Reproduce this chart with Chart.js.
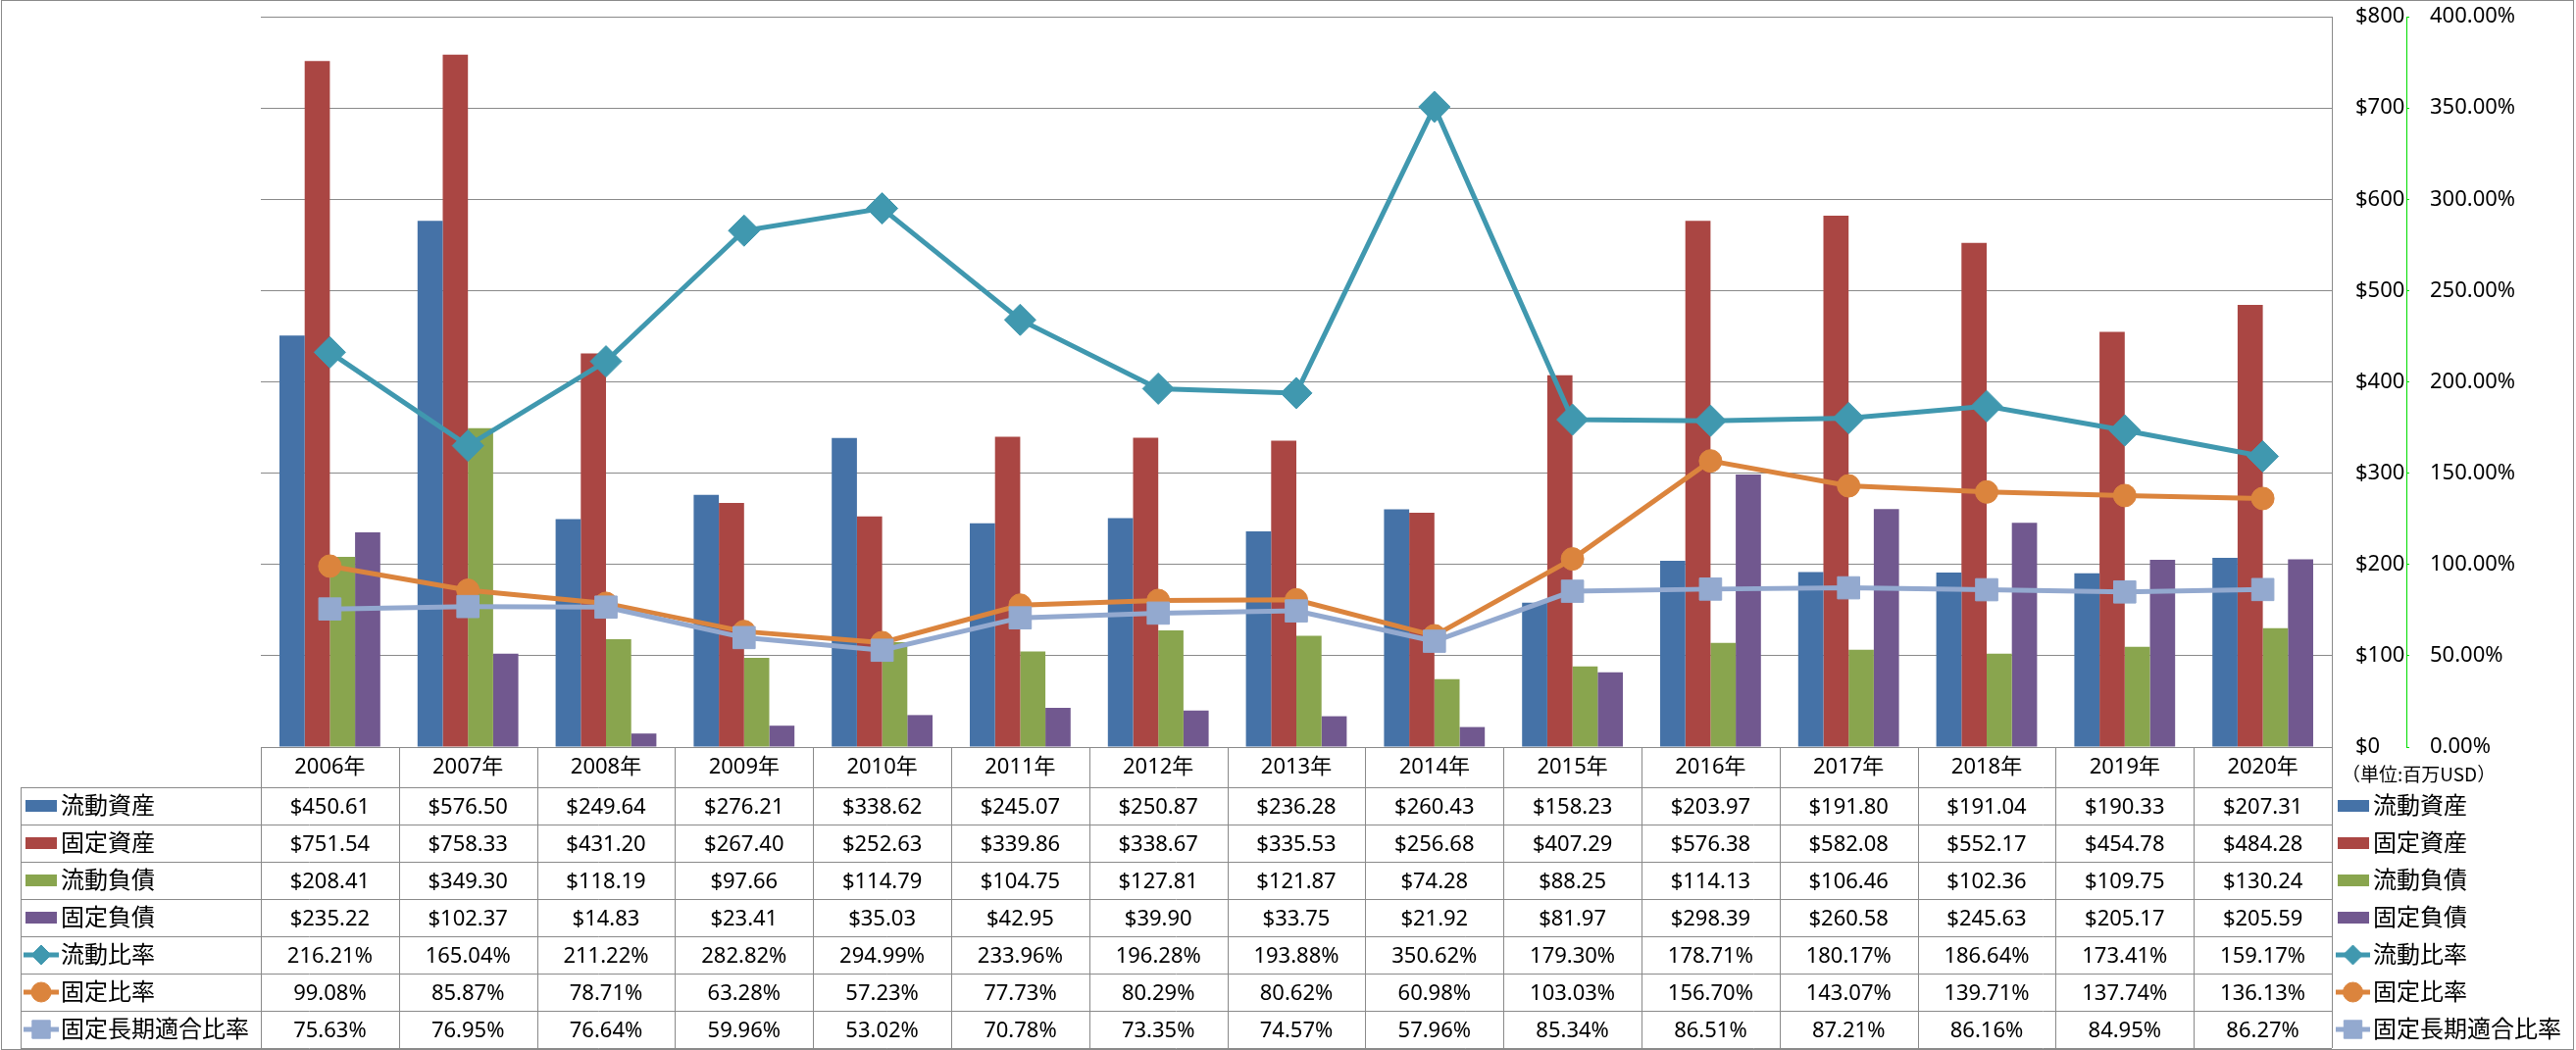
<!DOCTYPE html>
<html lang="ja">
<head>
<meta charset="utf-8">
<title>流動比率・固定比率</title>
<script src="https://cdn.jsdelivr.net/npm/chart.js@4.4.1/dist/chart.umd.min.js"></script>
<style>
  html, body { margin: 0; padding: 0; background: #fff; }
  #wrap { width: 2627px; height: 1071px; }
</style>
</head>
<body>
<div id="wrap"><canvas id="chart" width="2627" height="1071"></canvas></div>
<script>
const years = ['2006年', '2007年', '2008年', '2009年', '2010年', '2011年', '2012年', '2013年',
    '2014年', '2015年', '2016年', '2017年', '2018年', '2019年', '2020年'];

// 単位: 百万USD
const currentAssets = [450.61, 576.50, 249.64, 276.21, 338.62, 245.07, 250.87, 236.28, 260.43, 158.23, 203.97, 191.80, 191.04, 190.33, 207.31];
const fixedAssets = [751.54, 758.33, 431.20, 267.40, 252.63, 339.86, 338.67, 335.53, 256.68, 407.29, 576.38, 582.08, 552.17, 454.78, 484.28];
const currentLiab = [208.41, 349.30, 118.19, 97.66, 114.79, 104.75, 127.81, 121.87, 74.28, 88.25, 114.13, 106.46, 102.36, 109.75, 130.24];
const fixedLiab = [235.22, 102.37, 14.83, 23.41, 35.03, 42.95, 39.90, 33.75, 21.92, 81.97, 298.39, 260.58, 245.63, 205.17, 205.59];

// 比率 (%)
const currentRatio = [216.21, 165.04, 211.22, 282.82, 294.99, 233.96, 196.28, 193.88, 350.62, 179.30, 178.71, 180.17, 186.64, 173.41, 159.17];
const fixedRatio = [99.08, 85.87, 78.71, 63.28, 57.23, 77.73, 80.29, 80.62, 60.98, 103.03, 156.70, 143.07, 139.71, 137.74, 136.13];
const fixedLongRatio = [75.63, 76.95, 76.64, 59.96, 53.02, 70.78, 73.35, 74.57, 57.96, 85.34, 86.51, 87.21, 86.16, 84.95, 86.27];

const unitLabel = '（単位:百万USD）';

const money = v => '$' + v.toFixed(2);
const pct = v => v.toFixed(2) + '%';

const FONT_NUM = '22px "Noto Sans", "Noto Sans CJK JP", sans-serif';
const FONT_LABEL = '24px "Noto Sans CJK JP", sans-serif';
const GRID = '#8a8a8a';
const TABLE_LEFT = 21, HEAD_H = 41, ROW_H = 38;

Chart.defaults.font.family = '"Noto Sans", "Noto Sans CJK JP", sans-serif';
Chart.defaults.color = '#000';

function barSet(label, data, color) {
    return { type: 'bar', label, data, backgroundColor: color, borderWidth: 0, yAxisID: 'y', order: 4,
             categoryPercentage: 0.73, barPercentage: 1.0, fmt: money };
}

function lineSet(label, data, color, style, radius, keyRadius, order) {
    return { type: 'line', label, data, borderColor: color, backgroundColor: color,
             pointBackgroundColor: color, pointBorderColor: color, pointBorderWidth: 1,
             pointStyle: style, pointRadius: radius, pointHoverRadius: radius,
             borderWidth: 5, tension: 0, fill: false, yAxisID: 'y1', order, fmt: pct, keyRadius };
}

function drawKey(ctx, ds, x0, x1, cy) {
    ctx.save();
    if (ds.type === 'bar') {
        ctx.fillStyle = ds.backgroundColor;
        ctx.fillRect(x0, cy - 6, 32, 12);
    } else {
        ctx.strokeStyle = ds.borderColor;
        ctx.lineWidth = 5;
        ctx.beginPath();
        ctx.moveTo(x0, cy);
        ctx.lineTo(x1, cy);
        ctx.stroke();
        ctx.fillStyle = ds.borderColor;
        ctx.lineWidth = 1;
        Chart.helpers.drawPoint(ctx, { pointStyle: ds.pointStyle, radius: ds.keyRadius, rotation: 0, borderWidth: 1 },
            (x0 + x1) / 2, cy);
    }
    ctx.restore();
}

// 縦軸: 幅を固定し、目盛りラベルの余白で描画領域が下がらないようにする
function fixAxis(width) {
    return s => {
        s.width = width;
        s.paddingTop = 12;
        s.paddingBottom = 12;
    };
}

// データテーブル + 右側の凡例
const tablePlugin = {
    id: 'dataTable',
    afterDraw(chart) {
        const ctx = chart.ctx;
        const area = chart.chartArea;
        const xs = chart.scales.x;
        const cw = (area.right - area.left) / years.length;
        const headTop = area.bottom;
        const rowTop = headTop + HEAD_H;
        const bottom = rowTop + ROW_H * chart.data.datasets.length;
        const px = v => Math.round(v) + 0.5;

        ctx.save();
        ctx.strokeStyle = GRID;
        ctx.lineWidth = 1;
        ctx.beginPath();
        ctx.moveTo(area.left, px(headTop));
        ctx.lineTo(area.right, px(headTop));
        for (let k = 0; k <= chart.data.datasets.length; k++) {
            const y = px(rowTop + k * ROW_H);
            ctx.moveTo(TABLE_LEFT, y);
            ctx.lineTo(area.right, y);
        }
        ctx.moveTo(px(TABLE_LEFT), rowTop);
        ctx.lineTo(px(TABLE_LEFT), bottom);
        for (let j = 0; j <= years.length; j++) {
            const x = px(area.left + j * cw);
            ctx.moveTo(x, j === years.length ? area.top : headTop);
            ctx.lineTo(x, bottom);
        }
        ctx.stroke();

        // 外枠
        ctx.strokeRect(1.5, 0.5, 2623, 1070);

        chart.data.datasets.forEach((ds, i) => {
            const top = rowTop + i * ROW_H;
            ctx.fillStyle = '#000';
            ctx.textBaseline = 'alphabetic';
            ctx.font = FONT_NUM;
            ctx.textAlign = 'center';
            ds.data.forEach((v, j) => {
                ctx.fillText(ds.fmt(v), xs.getPixelForValue(j), top + 27);
            });

            // 左列
            drawKey(ctx, ds, ds.type === 'bar' ? 26 : 24, 60, top + 19);
            ctx.fillStyle = '#000';
            ctx.font = FONT_LABEL;
            ctx.textAlign = 'left';
            ctx.fillText(ds.label, 62, top + 27);

            // 右側の凡例
            drawKey(ctx, ds, ds.type === 'bar' ? 2384 : 2382, 2417, top + 19);
            ctx.fillStyle = '#000';
            ctx.font = FONT_LABEL;
            ctx.fillText(ds.label, 2420, top + 27);
        });

        ctx.font = '19px "Noto Sans CJK JP", sans-serif';
        ctx.textAlign = 'left';
        ctx.fillText(unitLabel, 2388, headTop + 35);
        ctx.restore();
    }
};

new Chart(document.getElementById('chart'), {
    data: {
        labels: years,
        datasets: [
            barSet('流動資産', currentAssets, '#4572A7'),
            barSet('固定資産', fixedAssets, '#AA4643'),
            barSet('流動負債', currentLiab, '#89A54E'),
            barSet('固定負債', fixedLiab, '#71588F'),
            lineSet('流動比率', currentRatio, '#4098AF', 'rectRot', 16, 10, 3),
            lineSet('固定比率', fixedRatio, '#DB843D', 'circle', 11.5, 10, 2),
            lineSet('固定長期適合比率', fixedLongRatio, '#93A9CF', 'rect', 16, 13, 1)
        ]
    },
    options: {
        responsive: false,
        animation: false,
        devicePixelRatio: 1,
        layout: { padding: { left: 266, right: 53, top: 15, bottom: 0 } },
        plugins: {
            legend: { display: false },
            tooltip: { enabled: false }
        },
        scales: {
            x: {
                grid: { display: false, drawTicks: false },
                border: { display: false },
                ticks: { font: { size: 22 }, padding: 8, maxRotation: 0, autoSkip: false },
                afterFit: s => { s.height = 309; }
            },
            y: {
                position: 'right',
                min: 0,
                max: 800,
                ticks: { stepSize: 100, font: { size: 22 }, padding: 24, callback: v => '$' + v },
                grid: { color: GRID, lineWidth: 1, drawTicks: false },
                border: { display: true, color: GRID, width: 1 },
                afterFit: fixAxis(76)
            },
            y1: {
                position: 'right',
                min: 0,
                max: 400,
                ticks: { stepSize: 50, font: { size: 22 }, padding: 21, callback: v => v.toFixed(2) + '%' },
                grid: { drawOnChartArea: false, drawTicks: true, tickLength: 3, tickColor: '#00dd00' },
                border: { display: true, color: '#00dd00', width: 1, dash: [3, 2] },
                afterFit: fixAxis(120)
            }
        }
    },
    plugins: [tablePlugin]
});
</script>
</body>
</html>
